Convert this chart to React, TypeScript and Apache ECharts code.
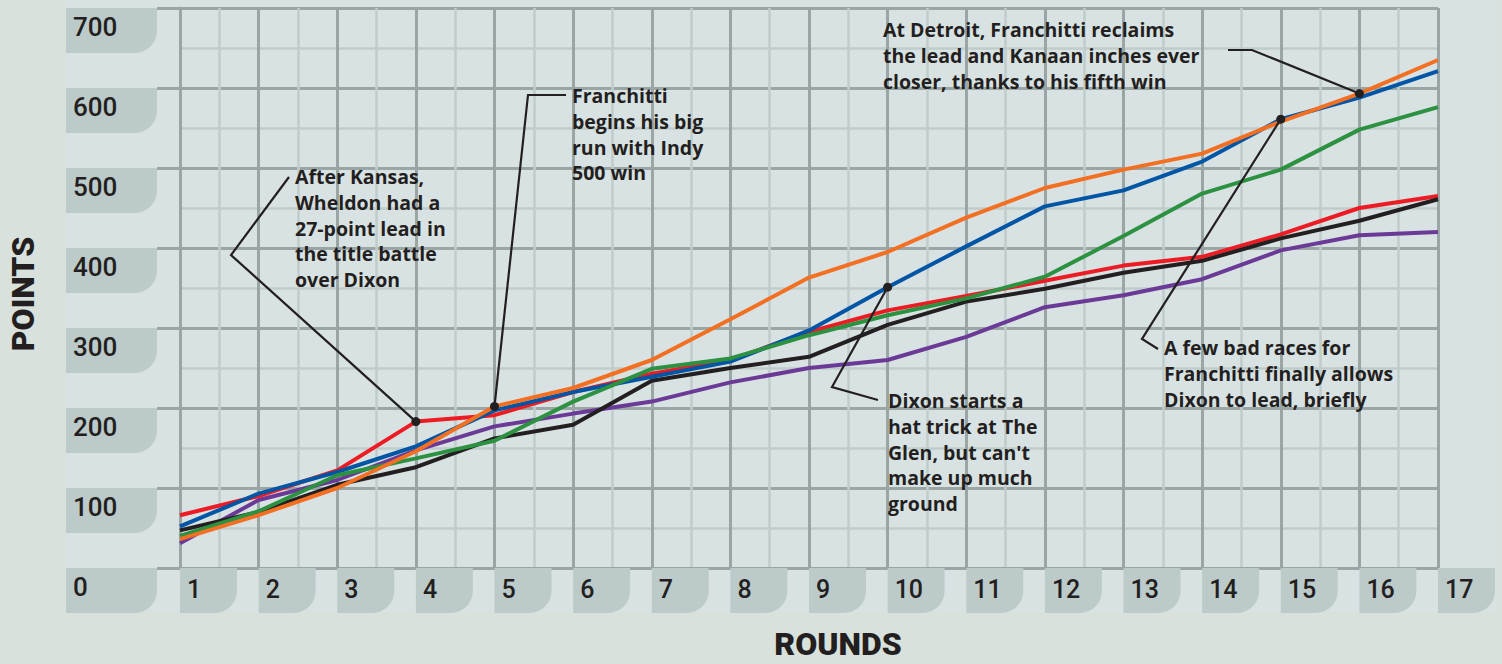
import { useEffect, useRef } from "react";
import * as echarts from "echarts";

const rounds = [1, 2, 3, 4, 5, 6, 7, 8, 9, 10, 11, 12, 13, 14, 15, 16, 17];
const yTicks = [0, 100, 200, 300, 400, 500, 600, 700];

const wheldon = [66, 90, 122, 183, 191, 220, 243, 260, 295, 322, 340, 359, 378, 389, 417, 450, 465];
const dixon = [52, 93, 120, 152, 197, 220, 239, 258, 297, 351, 402, 452, 472, 508, 561, 588, 621];
const blackDriver = [47, 70, 104, 126, 162, 179, 234, 250, 264, 304, 333, 349, 369, 384, 412, 434, 461];
const kanaan = [40, 71, 116, 137, 159, 208, 249, 262, 291, 316, 337, 364, 415, 468, 498, 548, 576];
const franchitti = [36, 66, 100, 146, 202, 225, 260, 311, 363, 395, 438, 475, 498, 518, 558, 593, 635];
const purpleDriver = [31, 85, 110, 147, 177, 193, 208, 232, 250, 260, 289, 326, 341, 361, 397, 416, 420];

const seriesList = [
  { name: "Purple", data: purpleDriver, color: "#6b3a97" },
  { name: "Wheldon", data: wheldon, color: "#ed1c24" },
  { name: "Black", data: blackDriver, color: "#231f20" },
  { name: "Dixon", data: dixon, color: "#0055a5" },
  { name: "Kanaan", data: kanaan, color: "#2c9140" },
  { name: "Franchitti", data: franchitti, color: "#f36f21" },
];

const annotations = [
  {
    lines: ["After Kansas,", "Wheldon had a", "27-point lead in", "the title battle", "over Dixon"],
    x: 295, y: 164, path: [[289, 177], [231, 255]], series: "Wheldon", round: 4,
  },
  {
    lines: ["Franchitti", "begins his big", "run with Indy", "500 win"],
    x: 572, y: 83, path: [[566, 95], [528, 95]], series: "Franchitti", round: 5,
  },
  {
    lines: ["At Detroit, Franchitti reclaims", "the lead and Kanaan inches ever", "closer, thanks to his fifth win"],
    x: 883, y: 17, path: [[1228, 50], [1252, 50]], series: "Franchitti", round: 16,
  },
  {
    lines: ["Dixon starts a", "hat trick at The", "Glen, but can't", "make up much", "ground"],
    x: 888, y: 388, path: [[878, 400], [832, 387]], series: "Dixon", round: 10,
  },
  {
    lines: ["A few bad races for", "Franchitti finally allows", "Dixon to lead, briefly"],
    x: 1164, y: 335, path: [[1158, 349], [1142, 339]], series: "Dixon", round: 15,
  },
];

const MAJOR = "#9aa6a5";
const MINOR = "#becccb";
const TAB = "#bccaca";
const INK = "#231f20";

export default function App() {
  const ref = useRef<HTMLDivElement>(null);
  useEffect(() => {
    const chart = echarts.init(ref.current!, undefined, { renderer: "svg" });
    chart.setOption({
      animation: false,
      grid: { left: 180, right: 64, top: 8, bottom: 96 },
      xAxis: {
        type: "value",
        min: 1,
        max: 17,
        interval: 1,
        axisLine: { show: true, lineStyle: { color: MAJOR, width: 3 } },
        axisTick: { show: false },
        splitLine: { show: true, lineStyle: { color: MAJOR, width: 3 } },
        minorTick: { show: false, splitNumber: 2 },
        minorSplitLine: { show: true, lineStyle: { color: MINOR, width: 2.5 } },
        axisLabel: {
          show: true,
          margin: 0,
          align: "left",
          verticalAlign: "top",
          color: INK,
          fontFamily: "Roboto",
          fontWeight: 500,
          fontSize: 25,
          backgroundColor: TAB,
          borderRadius: [0, 0, 22, 0],
          width: 50,
          height: 37,
          lineHeight: 37,
          padding: [3, 0, 5, 7],
          formatter: (v: number) => (rounds.includes(v) ? String(v) : ""),
        },
      },
      yAxis: {
        type: "value",
        min: 0,
        max: 700,
        interval: 100,
        axisLine: { show: true, lineStyle: { color: MAJOR, width: 3 } },
        axisTick: { show: true, length: 23, lineStyle: { color: MAJOR, width: 3 } },
        splitLine: { show: true, lineStyle: { color: MAJOR, width: 3 } },
        minorTick: { show: false, splitNumber: 2 },
        minorSplitLine: { show: true, lineStyle: { color: MINOR, width: 2.5 } },
        axisLabel: {
          show: true,
          margin: 114,
          align: "left",
          verticalAlign: "top",
          color: INK,
          fontFamily: "Roboto",
          fontWeight: 500,
          fontSize: 26,
          backgroundColor: TAB,
          borderRadius: [0, 0, 22, 0],
          width: 84,
          height: 37,
          lineHeight: 37,
          padding: [0, 0, 8, 7],
          formatter: (v: number) => (yTicks.includes(v) ? String(v) : ""),
        },
      },
      series: seriesList.map((s) => ({
        name: s.name,
        type: "line",
        data: rounds.map((r, i) => [r, s.data[i]]),
        showSymbol: false,
        symbol: "none",
        lineStyle: { color: s.color, width: 4 },
        itemStyle: { color: s.color },
      })),
    });

    const graphics: any[] = [];
    annotations.forEach((a) => {
      const s = seriesList.find((x) => x.name === a.series)!;
      const p = chart.convertToPixel({ gridIndex: 0 }, [a.round, s.data[a.round - 1]]) as number[];
      graphics.push({
        type: "polyline",
        z: 100,
        shape: { points: [...a.path, p] },
        style: { stroke: INK, lineWidth: 2.2, fill: null },
      });
      graphics.push({
        type: "circle",
        z: 101,
        shape: { cx: p[0], cy: p[1], r: 4.5 },
        style: { fill: INK },
      });
      graphics.push({
        type: "text",
        z: 100,
        x: a.x,
        y: a.y,
        style: {
          text: a.lines.join("\n"),
          fill: INK,
          fontFamily: "Open Sans",
          fontWeight: "bold",
          fontSize: 19.5,
          lineHeight: 25.7,
          verticalAlign: "top",
          align: "left",
        },
      });
    });
    graphics.push({
      type: "text",
      x: 838,
      y: 644,
      style: {
        text: "ROUNDS",
        fill: INK,
        fontFamily: "Roboto",
        fontWeight: 900,
        fontSize: 32,
        align: "center",
        verticalAlign: "middle",
      },
    });
    graphics.push({
      type: "text",
      x: 23,
      y: 294,
      rotation: Math.PI / 2,
      style: {
        text: "POINTS",
        fill: INK,
        fontFamily: "Roboto",
        fontWeight: 900,
        fontSize: 32,
        align: "center",
        verticalAlign: "middle",
      },
    });
    chart.setOption({ graphic: graphics });
    return () => chart.dispose();
  }, []);

  return (
    <div style={{ position: "fixed", left: 0, top: 0, width: 1502, height: 664, background: "#d8e1dc" }}>
      <div style={{ position: "absolute", left: 66, top: 0, width: 1431, height: 612, background: "#d9e2e3" }} />
      <div ref={ref} style={{ position: "absolute", left: 0, top: 0, width: 1502, height: 664 }} />
    </div>
  );
}
